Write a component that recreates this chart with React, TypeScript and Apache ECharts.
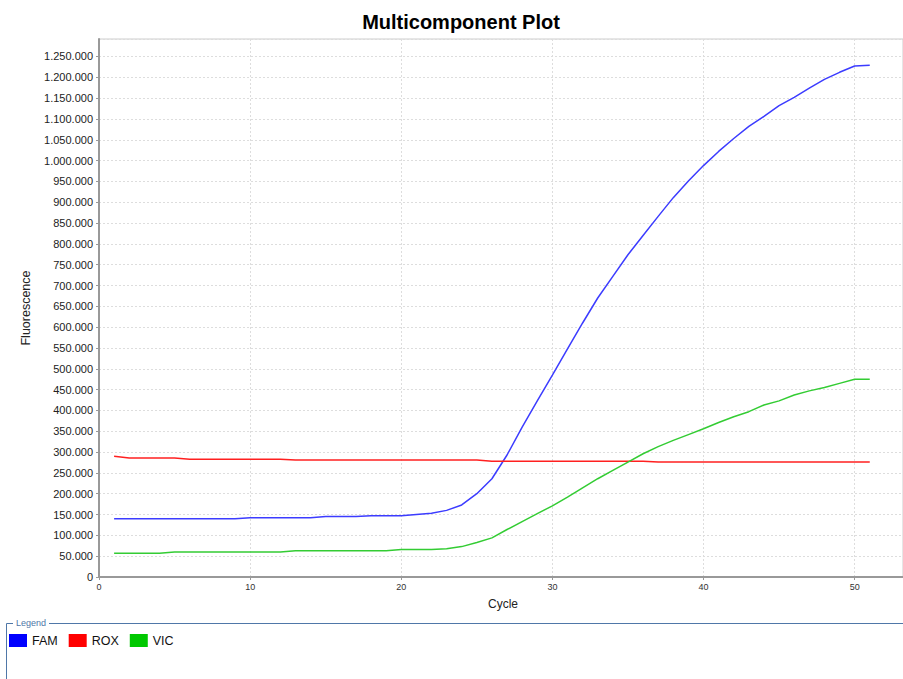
import React, { useEffect, useRef } from "react";
import * as echarts from "echarts";

const cycles: number[] = Array.from({ length: 51 }, (_, i) => i + 1);

const famValues: number[] = [
  140000, 140000, 140000, 140000, 140000, 140000, 140000, 140000, 140000,
  142000, 142000, 142000, 142000, 142000,
  145000, 145000, 145000,
  147000, 147000, 147000,
  150000, 153000, 160000, 173000, 200000, 236000, 293000, 360000, 423000, 485000,
  548000, 610000, 670000, 722000, 774000, 820000, 866000, 911000, 951000, 988000,
  1022000, 1053000, 1082000, 1106000, 1132000, 1152000, 1174000, 1195000, 1212000, 1227000,
  1229000,
];

const roxValues: number[] = [
  290000,
  286000, 286000, 286000, 286000,
  283000, 283000, 283000, 283000, 283000, 283000, 283000,
  281000, 281000, 281000, 281000, 281000, 281000, 281000, 281000, 281000, 281000, 281000, 281000, 281000,
  278000, 278000, 278000, 278000, 278000, 278000, 278000, 278000, 278000, 278000, 278000,
  276000, 276000, 276000, 276000, 276000, 276000, 276000, 276000, 276000, 276000, 276000, 276000, 276000, 276000, 276000,
];

const vicValues: number[] = [
  57000, 57000, 57000, 57000,
  60000, 60000, 60000, 60000, 60000, 60000, 60000, 60000,
  63000, 63000, 63000, 63000, 63000, 63000, 63000,
  66000, 66000, 66000,
  68000, 73000, 83000, 94000, 114000, 133000, 152000, 171000,
  192000, 214000, 236000, 256000, 276000, 296000, 313000, 328000, 342000, 356000,
  371000, 385000, 397000, 413000, 423000, 437000, 447000, 455000, 465000, 475000,
  475000,
];

const seriesNames: string[] = ["FAM", "ROX", "VIC"];
const lineColors: string[] = ["#3c3cff", "#ff2020", "#33cc33"];
const legendColors: string[] = ["#0000ff", "#ff0000", "#00c800"];

const fmt = (v: number): string =>
  String(Math.round(v)).replace(/\B(?=(\d{3})+(?!\d))/g, ".");

const FONT = "Liberation Sans, Arial, sans-serif";

export default function App() {
  const ref = useRef<HTMLDivElement>(null);
  useEffect(() => {
    if (!ref.current) return;
    const chart = echarts.init(ref.current, undefined, { renderer: "svg" });
    const allValues = [famValues, roxValues, vicValues];
    chart.setOption({
      animation: false,
      backgroundColor: "#ffffff",
      textStyle: { fontFamily: FONT },
      title: {
        text: "Multicomponent Plot",
        left: 456,
        top: 7,
        textAlign: "center",
        textStyle: { fontSize: 20, fontWeight: "bold", color: "#000", fontFamily: FONT },
      },
      grid: {
        left: 99,
        top: 39,
        right: 0,
        bottom: 102,
        show: true,
        borderColor: "#cccccc",
        borderWidth: 1,
      },
      legend: {
        left: 9,
        top: 634,
        padding: 0,
        icon: "rect",
        itemWidth: 18,
        itemHeight: 13,
        itemGap: 11,
        textStyle: { fontSize: 12.5, color: "#111", fontFamily: FONT },
        data: seriesNames.map((n, i) => ({ name: n, itemStyle: { color: legendColors[i] } })),
      },
      xAxis: {
        type: "value",
        min: 0,
        max: 53.2,
        interval: 10,
        name: "Cycle",
        nameLocation: "middle",
        nameGap: 21,
        nameTextStyle: { fontSize: 12, color: "#222", padding: [0, 0, 0, 4] },
        axisLine: { show: true, lineStyle: { color: "#999", width: 2 } },
        axisTick: { show: true, length: 3, lineStyle: { color: "#999" } },
        axisLabel: {
          fontSize: 9,
          color: "#333",
          margin: 5,
          showMaxLabel: false,
          formatter: (v: number) => (v % 10 === 0 ? String(v) : ""),
        },
        splitLine: { show: true, lineStyle: { color: "#dddddd", type: [2, 2], width: 1 } },
      },
      yAxis: {
        type: "value",
        min: 0,
        max: 1292000,
        interval: 50000,
        name: "Fluorescence",
        nameLocation: "middle",
        nameGap: 67,
        nameTextStyle: { fontSize: 12.5, color: "#222" },
        axisLine: { show: true, lineStyle: { color: "#999", width: 2 } },
        axisTick: { show: true, length: 3, lineStyle: { color: "#999" } },
        axisLabel: {
          fontSize: 11,
          color: "#222",
          margin: 6,
          showMaxLabel: false,
          formatter: (v: number) => (v % 50000 === 0 ? fmt(v) : ""),
        },
        splitLine: { show: true, lineStyle: { color: "#dddddd", type: [2, 2], width: 1 } },
      },
      graphic: [
        {
          type: "polyline",
          shape: { points: [[6.5, 679], [6.5, 623.5], [13, 623.5]] },
          style: { stroke: "#4f77a8", lineWidth: 1, fill: "none" },
          z: 10,
        },
        {
          type: "line",
          shape: { x1: 49, y1: 623.5, x2: 903, y2: 623.5 },
          style: { stroke: "#4f77a8", lineWidth: 1 },
          z: 10,
        },
        {
          type: "text",
          left: 16,
          top: 618,
          style: { text: "Legend", fontSize: 9, fill: "#4f77a8", fontFamily: FONT },
          z: 10,
        },
      ],
      series: seriesNames.map((name, i) => ({
        name,
        type: "line",
        showSymbol: false,
        symbol: "none",
        smooth: false,
        color: legendColors[i],
        lineStyle: { color: lineColors[i], width: 1.5 },
        data: cycles.map((c, j) => [c, allValues[i][j]]),
      })),
    });
    return () => chart.dispose();
  }, []);
  return (
    <div
      ref={ref}
      style={{ position: "fixed", left: 0, top: 0, width: 903, height: 679 }}
    />
  );
}
